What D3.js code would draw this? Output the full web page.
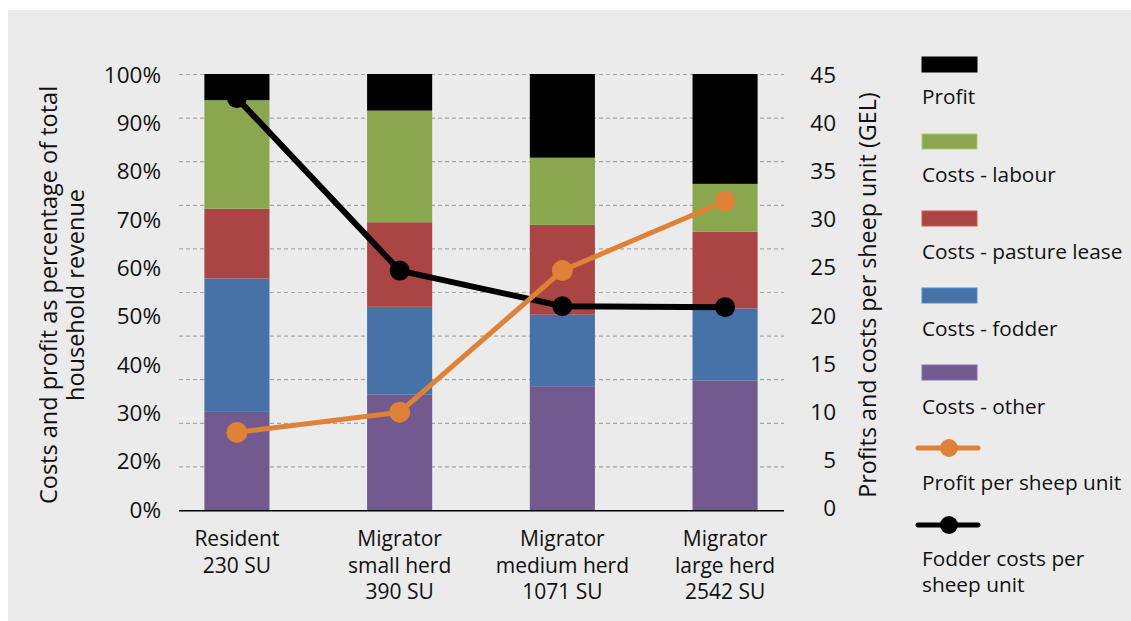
<!DOCTYPE html>
<html>
<head>
<meta charset="utf-8">
<script src="https://cdn.jsdelivr.net/npm/d3@7/dist/d3.min.js"></script>
<style>
  html, body { margin: 0; padding: 0; background: #ffffff; }
  svg { display: block; }
  text { font-family: "Open Sans", Lato, sans-serif; fill: #111; }
</style>
</head>
<body>
<svg id="chart" width="1131" height="621"></svg>
<script>
// ---- data ----
const categories = [
  ["Resident", "230 SU"],
  ["Migrator", "small herd", "390 SU"],
  ["Migrator", "medium herd", "1071 SU"],
  ["Migrator", "large herd", "2542 SU"]
];
const costsOther   = [22.5, 26.5, 28.4, 29.7];
const costsFodder  = [30.6, 20.1, 16.4, 16.5];
const costsPasture = [16.0, 19.4, 20.6, 17.6];
const costsLabour  = [24.9, 25.6, 15.4, 11.0];
const profitShare  = [6.0, 8.4, 19.2, 25.2];
const profitPerSU  = [7.9, 10.0, 24.7, 31.9];
const fodderPerSU  = [42.6, 24.7, 21.0, 20.9];
const leftTickLabels  = ["0%", "20%", "30%", "40%", "50%", "60%", "70%", "80%", "90%", "100%"];
const rightTickValues = [0, 5, 10, 15, 20, 25, 30, 35, 40, 45];
const seriesNames = ["Profit", "Costs - labour", "Costs - pasture lease", "Costs - fodder", "Costs - other"];

// ---- styles ----
const colors = {
  "Costs - other": "#725a8e",
  "Costs - fodder": "#4672a7",
  "Costs - pasture lease": "#a94644",
  "Costs - labour": "#8aa64e",
  "Profit": "#000000"
};
const orange = "#df8238";
const FONT = "'Open Sans', Lato, sans-serif";

const svg = d3.select("#chart");
svg.append("rect").attr("x", 8).attr("y", 10).attr("width", 1123).attr("height", 611).attr("fill", "#ebebeb");

const x = d3.scaleBand().domain(d3.range(categories.length)).range([179, 783]).paddingInner(0.6).paddingOuter(0.156);
const y = d3.scaleLinear().domain([0, 100]).range([510, 74]);
const yLabel = d3.scalePoint().domain(leftTickLabels).range([510, 75]);
const yR = d3.scaleLinear().domain([0, 45]).range([508.5, 75]);

// gridlines
const grid = svg.append("g");
grid.selectAll("line").data(d3.range(10, 101, 10)).join("line")
  .attr("x1", 179).attr("x2", 784)
  .attr("y1", d => y(d) + 0.5).attr("y2", d => y(d) + 0.5)
  .attr("stroke", "#a6a6a6").attr("stroke-width", 1.2).attr("stroke-dasharray", "4,3");

// stacked bars
const rows = categories.map((c, i) => ({
  i,
  "Costs - other": costsOther[i],
  "Costs - fodder": costsFodder[i],
  "Costs - pasture lease": costsPasture[i],
  "Costs - labour": costsLabour[i],
  "Profit": profitShare[i]
}));
const stackKeys = ["Costs - other", "Costs - fodder", "Costs - pasture lease", "Costs - labour", "Profit"];
const stacked = d3.stack().keys(stackKeys)(rows);
svg.append("g").selectAll("g").data(stacked).join("g")
  .attr("fill", s => colors[s.key])
  .selectAll("rect").data(s => s).join("rect")
  .attr("x", d => x(d.data.i))
  .attr("width", x.bandwidth())
  .attr("y", d => y(Math.min(100, d[1])))
  .attr("height", d => y(d[0]) - y(Math.min(100, d[1])));

// baseline
svg.append("line").attr("x1", 179).attr("x2", 784).attr("y1", y(0) + 0.8).attr("y2", y(0) + 0.8)
  .attr("stroke", "#000").attr("stroke-width", 1.5);

// lines
const cx = i => x(i) + x.bandwidth() / 2;
function drawLine(vals, color, w, r) {
  const line = d3.line().x((d, i) => cx(i)).y(d => yR(d));
  svg.append("path").datum(vals).attr("d", line).attr("fill", "none")
    .attr("stroke", color).attr("stroke-width", w).attr("stroke-linejoin", "round");
  svg.append("g").selectAll("circle").data(vals).join("circle")
    .attr("cx", (d, i) => cx(i)).attr("cy", d => yR(d)).attr("r", r).attr("fill", color);
}
drawLine(fodderPerSU, "#000", 6, 10);
drawLine(profitPerSU, orange, 5, 10.5);

// left axis labels
const leftAxis = d3.axisLeft(yLabel).tickSize(0).tickPadding(0);
const gl = svg.append("g").attr("transform", "translate(161,0)").call(leftAxis);
gl.select(".domain").remove();
gl.selectAll("text").attr("font-size", "22.5px").attr("font-family", FONT).attr("fill", "#111");

// right axis labels
const rightAxis = d3.axisLeft(yR).tickValues(rightTickValues).tickSize(0).tickPadding(0).tickFormat(d3.format("d"));
const gr = svg.append("g").attr("transform", "translate(836,0)").call(rightAxis);
gr.select(".domain").remove();
gr.selectAll("text").attr("font-size", "22.5px").attr("font-family", FONT).attr("fill", "#111");

// x labels
const xl = svg.append("g");
categories.forEach((lines, i) => {
  const t = xl.append("text").attr("x", cx(i)).attr("y", 539).attr("dy", "0.35em")
    .attr("text-anchor", "middle").attr("font-size", "21px");
  lines.forEach((s, j) => {
    t.append("tspan").attr("x", cx(i)).attr("dy", j === 0 ? "0.35em" : "26.5").text(s);
  });
});

// axis titles
const lt = svg.append("text").attr("transform", "translate(49,295) rotate(-90)").attr("text-anchor", "middle").attr("font-size", "23.5px");
lt.append("tspan").attr("x", 0).attr("dy", "0.35em").text("Costs and profit as percentage of total");
lt.append("tspan").attr("x", 0).attr("dy", "27").text("household revenue");
svg.append("text").attr("transform", "translate(868,295) rotate(-90)").attr("text-anchor", "middle")
  .attr("dy", "0.35em").attr("font-size", "23.3px").text("Profits and costs per sheep unit (GEL)");

// legend
const lg = svg.append("g");
seriesNames.forEach((name, i) => {
  lg.append("rect").attr("x", 922).attr("y", 57 + i * 77).attr("width", 55).attr("height", 15)
    .attr("fill", colors[name]).attr("stroke", d3.color(colors[name]).brighter(0.6)).attr("stroke-width", 1);
  lg.append("text").attr("x", 922).attr("y", 97 + i * 77.4).attr("dy", "0.35em").attr("font-size", "20.8px").text(name);
});
const lineLegend = [
  {name: ["Profit per sheep unit"], color: orange, y: 448, ty: 483},
  {name: ["Fodder costs per", "sheep unit"], color: "#000", y: 525, ty: 559}
];
lineLegend.forEach(d => {
  lg.append("line").attr("x1", 918).attr("x2", 978).attr("y1", d.y).attr("y2", d.y)
    .attr("stroke", d.color).attr("stroke-width", 5).attr("stroke-linecap", "round");
  lg.append("circle").attr("cx", 949).attr("cy", d.y).attr("r", 9).attr("fill", d.color);
  const t = lg.append("text").attr("x", 922).attr("y", d.ty).attr("font-size", "20.8px");
  d.name.forEach((s, j) => {
    t.append("tspan").attr("x", 922).attr("dy", j === 0 ? "0.35em" : "25.5").text(s);
  });
});
</script>
</body>
</html>
